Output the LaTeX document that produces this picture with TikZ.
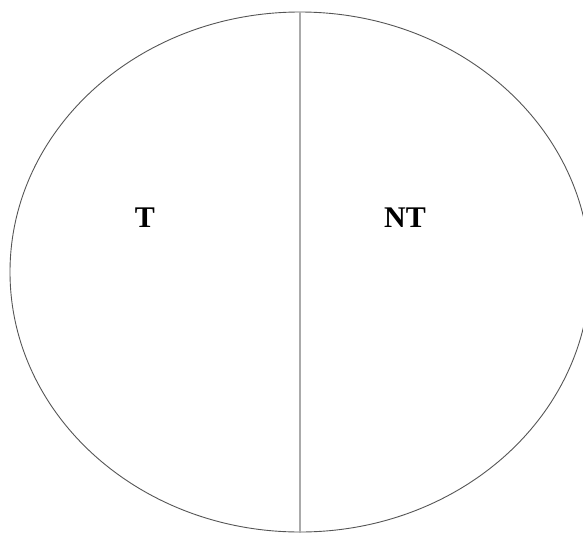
\documentclass[tikz,border=0pt]{standalone}
\usepackage{fontspec}
\setmainfont{Liberation Serif}
\usepackage{tikz}
\usetikzlibrary{positioning, calc}
\usepackage{xcolor}
\definecolor{rimgray}{HTML}{555555}
\definecolor{splitgray}{HTML}{AAAAAA}

\begin{document}
\begin{tikzpicture}[x=1pt, y=-1pt,
    rim/.style={draw=rimgray, line width=0.9pt},
    split/.style={draw=splitgray, line width=2pt},
    tag/.style={font=\fontsize{30}{36}\selectfont\bfseries, inner sep=0pt}]
    \useasboundingbox (0,0) rectangle (583,533);
    \draw[rim] (300,272) ellipse [x radius=290, y radius=260];
    \coordinate (top) at (300,12);
    \coordinate (bottom) at (300,533);
    \draw[split] (top) -- (bottom);
    \node[tag] (t) at (145,218) {T};
    \node[tag] (nt) at (405,218) {NT};
  \end{tikzpicture}
\end{document}
